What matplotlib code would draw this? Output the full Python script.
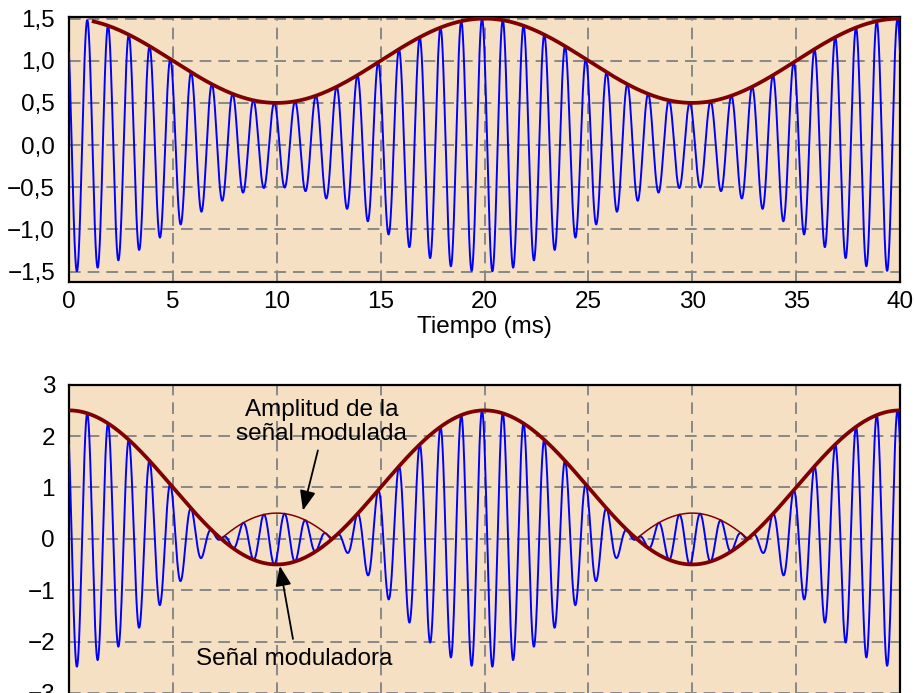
import numpy as np
import matplotlib
matplotlib.use("Agg")
import matplotlib.pyplot as plt
from matplotlib.ticker import FuncFormatter

plt.rcParams['font.family'] = ['Liberation Sans', 'DejaVu Sans']

# ---- data ----
time_range_ms = [0, 40]
carrier_freq_khz = 1.0          # carrier: 1 cycle per ms
carrier_phase_ms = 0.12         # carrier peaks just before each integer ms
mod_period_ms = 20              # modulating period
top_offset, top_amp = 1.0, 0.5      # top: 1 + 0.5 cos  (0.5 .. 1.5)
bot_offset, bot_amp = 1.0, 1.5      # bottom: 1 + 1.5 cos (-0.5 .. 2.5)
top_env_start_ms = 1.1
x_ticks = [0, 5, 10, 15, 20, 25, 30, 35, 40]
top_y_ticks = [-1.5, -1.0, -0.5, 0.0, 0.5, 1.0, 1.5]
bot_y_ticks = [-3, -2, -1, 0, 1, 2, 3]
xlabel_text = "Tiempo (ms)"
annot_amp = "Amplitud de la\nseñal modulada"
annot_mod = "Señal moduladora"

BG = '#F5E0C3'
BLUE = '#0000FF'
DARKRED = '#7F0000'
GRID = '#888888'
FS = 17.5

t = np.linspace(time_range_ms[0], time_range_ms[1], 8001)
carrier = np.cos(2 * np.pi * carrier_freq_khz * (t + carrier_phase_ms))

def modulating(tt, off, amp):
    return off + amp * np.cos(2 * np.pi * tt / mod_period_ms)

m_top = modulating(t, top_offset, top_amp)
m_bot = modulating(t, bot_offset, bot_amp)

fig = plt.figure(figsize=(9.15, 6.93), dpi=100)

L, R = 69 / 915, 900 / 915
H = 693.0
ax1 = fig.add_axes([L, 1 - 281.7 / H, R - L, (281.7 - 17.3) / H])
ax2 = fig.add_axes([L, 1 - 698 / H, R - L, (698 - 384.7) / H])


def dec_fmt(v, pos):
    s = f"{abs(v):.1f}".replace('.', ',')
    return ('\u2212' + s) if v < -1e-9 else s


def int_fmt(v, pos):
    s = f"{abs(int(round(v)))}"
    return ('\u2212' + s) if v < -1e-9 else s


for ax in (ax1, ax2):
    ax.set_facecolor(BG)
    ax.set_xlim(time_range_ms)
    ax.set_xticks(x_ticks)
    ax.grid(True, color=GRID, linestyle=(0, (6, 3.6)), linewidth=1.4)
    ax.set_axisbelow(True)
    ax.tick_params(length=0, labelsize=FS)
    ax.tick_params(axis='y', pad=10)
    ax.tick_params(axis='x', pad=7)
    for sp in ax.spines.values():
        sp.set_linewidth(1.6)
        sp.set_color('black')

# ---- top ----
ax1.set_ylim(-1.62, 1.515)
ax1.set_yticks(top_y_ticks)
ax1.yaxis.set_major_formatter(FuncFormatter(dec_fmt))
ax1.plot(t, m_top * carrier, color=BLUE, lw=1.4, zorder=3)
mask = t >= top_env_start_ms
ax1.plot(t[mask], m_top[mask], color=DARKRED, lw=2.7, zorder=4,
         solid_capstyle='butt')
ax1.set_xlabel(xlabel_text, fontsize=FS, labelpad=2)

# ---- bottom ----
ax2.set_ylim(-3.1, 3.0)
ax2.set_yticks(bot_y_ticks)
ax2.yaxis.set_major_formatter(FuncFormatter(int_fmt))
ax2.tick_params(axis='x', labelbottom=False)
ax2.plot(t, m_bot * carrier, color=BLUE, lw=1.4, zorder=3)
ax2.plot(t, m_bot, color=DARKRED, lw=2.7, zorder=4)
neg = np.where(m_bot < 0, -m_bot, np.nan)
ax2.plot(t, neg, color=DARKRED, lw=1.1, zorder=4)

arrow = dict(arrowstyle='-|>,head_length=1.0,head_width=0.4',
             color='black', lw=1.3, shrinkA=0, shrinkB=0, mutation_scale=12)
ax2.text(12.17, 2.28, annot_amp, ha='center', va='center', fontsize=FS,
         linespacing=1.12, zorder=5)
ax2.annotate('', xy=(11.26, 0.55), xytext=(11.98, 1.72), arrowprops=arrow,
             zorder=5)
ax2.text(10.83, -2.34, annot_mod, ha='center', va='center', fontsize=FS,
         zorder=5)
ax2.annotate('', xy=(10.15, -0.53), xytext=(10.78, -1.95), arrowprops=arrow,
             zorder=5)

fig.savefig("out.png", dpi=100, facecolor='white')
